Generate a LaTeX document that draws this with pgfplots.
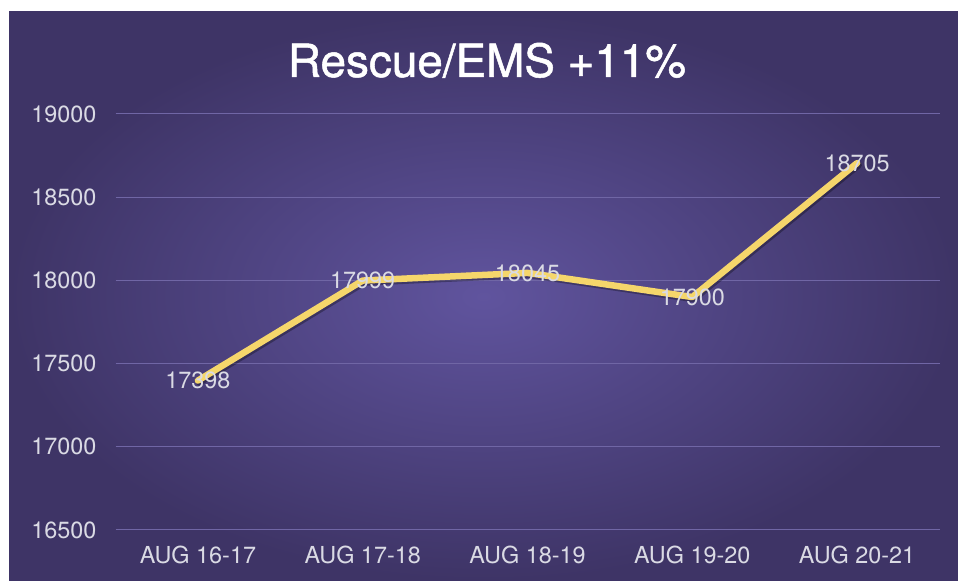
\documentclass[border=0pt]{standalone}
\usepackage{pgfplots}
\pgfplotsset{compat=1.18}
\usepackage{fontspec}
\setmainfont{TeX Gyre Heros}
\newfontfamily\titlefont[FakeBold=1.1]{TeX Gyre Heros}
\definecolor{bgin}{RGB}{96,84,158}
\definecolor{bgout}{RGB}{62,52,102}
\definecolor{gridc}{RGB}{112,102,165}
\definecolor{labc}{RGB}{218,218,228}
\definecolor{linec}{RGB}{245,214,107}
\begin{document}
\begin{tikzpicture}[x=1bp,y=1bp]
\useasboundingbox (0,0) rectangle (958,581);
\fill[white] (0,0) rectangle (958,581);
\shade[inner color=bgin, outer color=bgout] (9,0) rectangle (958,569);
\node[text=white, anchor=base, inner sep=0pt] at (487,504) {\fontsize{46}{54}\titlefont Rescue/EMS +11\%};
\begin{axis}[
  at={(115.5bp,51bp)}, anchor=south west,
  scale only axis, width=824bp, height=416bp,
  xmin=-0.5, xmax=4.5, ymin=16500, ymax=19000,
  xtick={0,1,2,3,4},
  xticklabels={AUG 16-17,AUG 17-18,AUG 18-19,AUG 19-20,AUG 20-21},
  ytick={16500,17000,17500,18000,18500,19000},
  scaled y ticks=false,
  axis line style={draw=none}, tick style={draw=none}, major tick length=0pt,
  ymajorgrids, grid style={color=gridc, line width=1bp},
  tick label style={font=\fontsize{23.5}{28}\selectfont, text=labc},
  xticklabel style={yshift=-12bp},
  yticklabel style={xshift=-15.5bp},
  /pgf/number format/assume math mode=true,
  /pgf/number format/1000 sep={},
  clip=false,
]
\addplot[color=linec, line width=6.5bp, line join=round, line cap=round,
  preaction={draw=black, opacity=0.3, line width=6.5bp, transform canvas={xshift=1.5bp,yshift=-2bp}},
  nodes near coords,
  nodes near coords style={anchor=center, text=labc, font=\fontsize{23.5}{28}\selectfont, opacity=1},
] coordinates {(0,17398) (1,17999) (2,18045) (3,17900) (4,18705)};
\end{axis}
\end{tikzpicture}
\end{document}
